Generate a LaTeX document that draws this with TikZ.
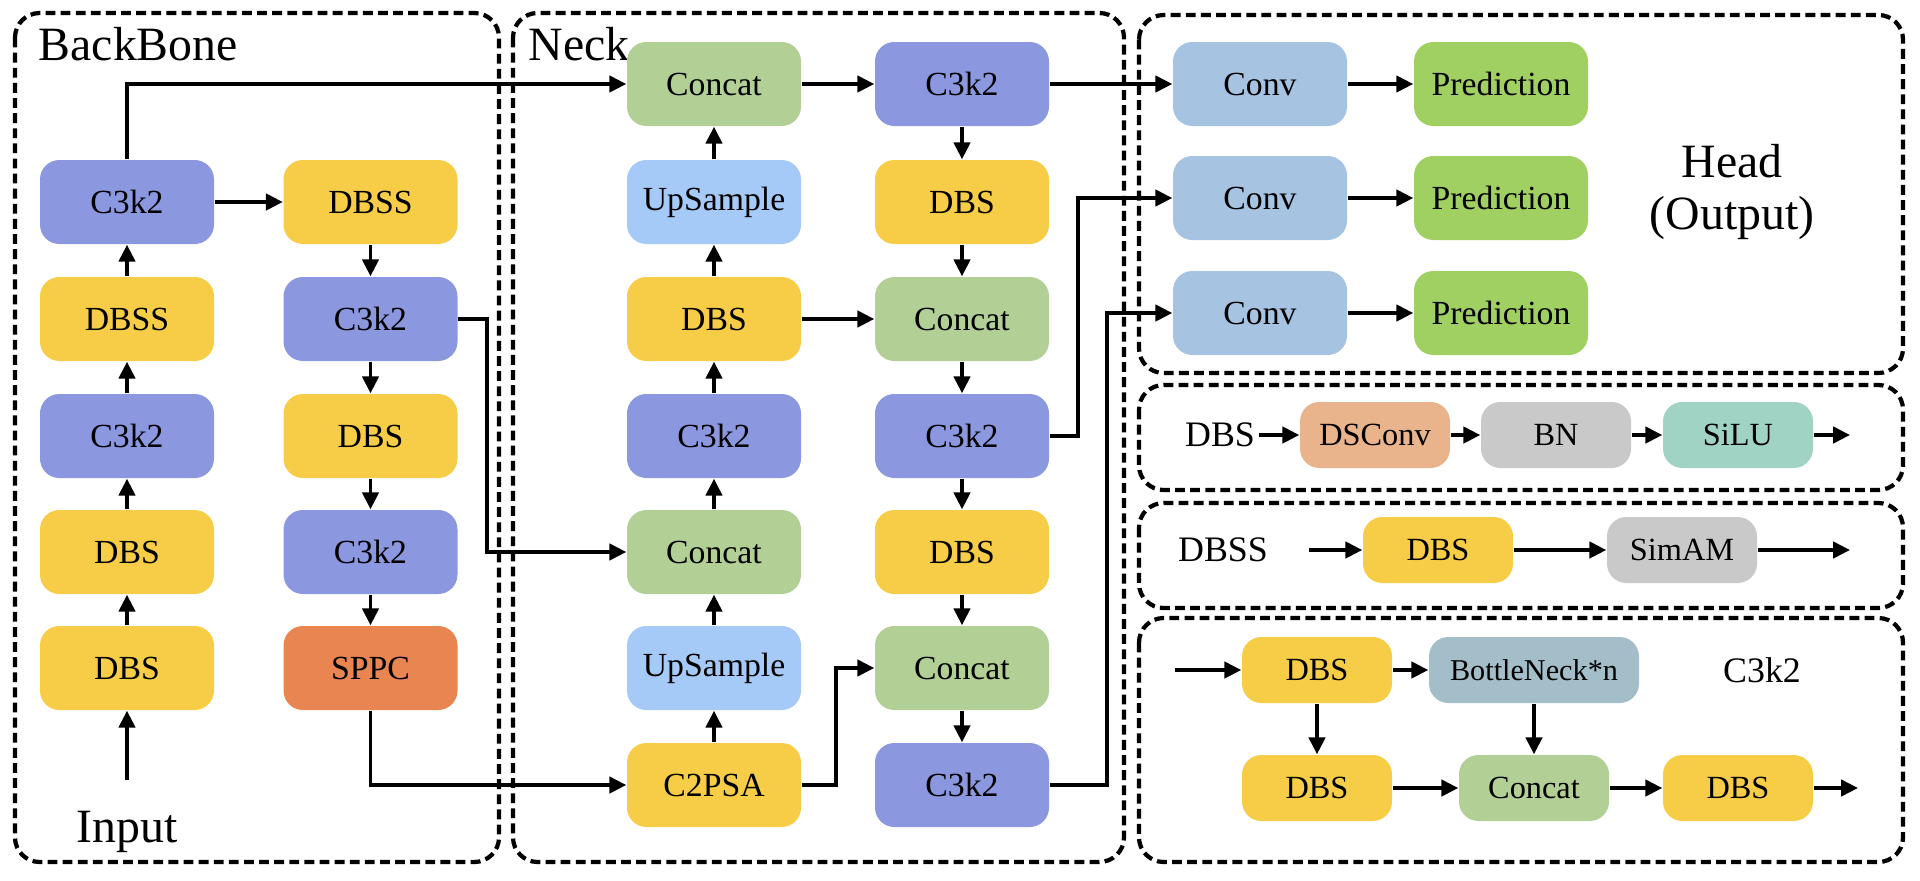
\documentclass[tikz,border=0pt]{standalone}
\usepackage{fontspec}
\setmainfont{Liberation Serif}
\usetikzlibrary{arrows.meta}
\definecolor{CCtk}{RGB}{139,152,224}
\definecolor{CDbs}{RGB}{247,205,72}
\definecolor{CCat}{RGB}{178,208,150}
\definecolor{CUps}{RGB}{166,202,248}
\definecolor{CSpp}{RGB}{233,133,80}
\definecolor{CConv}{RGB}{166,196,226}
\definecolor{CPred}{RGB}{160,207,98}
\definecolor{CDsc}{RGB}{233,180,140}
\definecolor{CGrey}{RGB}{201,201,201}
\definecolor{CSilu}{RGB}{160,211,196}
\definecolor{CBtn}{RGB}{164,190,201}
\tikzset{
  node base/.style={
    rounded corners=5.5pt,
    minimum width=1.74cm,
    minimum height=0.84cm,
    inner sep=0pt,
    font=\fontsize{9.6}{11}\selectfont
  },
  ctk/.style={node base,fill=CCtk},
  dbs/.style={node base,fill=CDbs},
  cat/.style={node base,fill=CCat},
  ups/.style={node base,fill=CUps},
  spp/.style={node base,fill=CSpp},
  cnv/.style={node base,fill=CConv},
  prd/.style={node base,fill=CPred},
  dsc/.style={node base,fill=CDsc},
  gry/.style={node base,fill=CGrey},
  slu/.style={node base,fill=CSilu},
  btn/.style={node base,fill=CBtn},
  lowbox/.style={minimum width=1.50cm,minimum height=0.66cm,font=\fontsize{9.2}{11}\selectfont},
  panel/.style={draw,line width=1.2pt,dash pattern=on 2.8pt off 1.5pt,rounded corners=7pt},
  title/.style={font=\fontsize{13.6}{14.8}\selectfont,inner sep=0pt},
  tag/.style={font=\fontsize{10.2}{12}\selectfont,inner sep=1pt},
  arrow/.style={-{Triangle[length=4.8pt,width=4.6pt]},line width=1.05pt}
}

\begin{document}
\begin{tikzpicture}[x=1cm,y=1cm]
\useasboundingbox (0,0) rectangle (19.2,-8.8);

% Dashed frames
\draw[panel] (0.15,-0.13) rectangle (4.99,-8.62);
\draw[panel] (5.13,-0.13) rectangle (11.24,-8.62);
\draw[panel] (11.39,-0.15) rectangle (19.03,-3.73);
\draw[panel] (11.39,-3.85) rectangle (19.03,-4.90);
\draw[panel] (11.39,-5.03) rectangle (19.03,-6.08);
\draw[panel] (11.39,-6.18) rectangle (19.03,-8.62);

% Backbone
\node[title,anchor=base west] (btitle) at (0.38,-0.60) {BackBone};
\node[ctk] (bl2) at (1.27,-2.02) {C3k2};
\node[dbs] (bl3) at (1.27,-3.19) {DBSS};
\node[ctk] (bl4) at (1.27,-4.36) {C3k2};
\node[dbs] (bl5) at (1.27,-5.52) {DBS};
\node[dbs] (bl6) at (1.27,-6.68) {DBS};
\node[dbs] (br2) at (3.705,-2.02) {DBSS};
\node[ctk] (br3) at (3.705,-3.19) {C3k2};
\node[dbs] (br4) at (3.705,-4.36) {DBS};
\node[ctk] (br5) at (3.705,-5.52) {C3k2};
\node[spp] (br6) at (3.705,-6.68) {SPPC};
\node[title,anchor=base] (inlbl) at (1.27,-8.42) {Input};
\coordinate (in) at (1.27,-7.80);

\draw[arrow] (in)--(bl6);
\draw[arrow] (bl6)--(bl5);
\draw[arrow] (bl5)--(bl4);
\draw[arrow] (bl4)--(bl3);
\draw[arrow] (bl3)--(bl2);
\draw[arrow] (bl2)--(br2);
\draw[arrow] (br2)--(br3);
\draw[arrow] (br3)--(br4);
\draw[arrow] (br4)--(br5);
\draw[arrow] (br5)--(br6);

% Neck
\node[title,anchor=base west] (ntitle) at (5.28,-0.60) {Neck};
\node[cat] (nl1) at (7.14,-0.84) {Concat};
\node[ups] (nl2) at (7.14,-2.02) {UpSample};
\node[dbs] (nl3) at (7.14,-3.19) {DBS};
\node[ctk] (nl4) at (7.14,-4.36) {C3k2};
\node[cat] (nl5) at (7.14,-5.52) {Concat};
\node[ups] (nl6) at (7.14,-6.68) {UpSample};
\node[dbs] (nl7) at (7.14,-7.85) {C2PSA};
\node[ctk] (nr1) at (9.62,-0.84) {C3k2};
\node[dbs] (nr2) at (9.62,-2.02) {DBS};
\node[cat] (nr3) at (9.62,-3.19) {Concat};
\node[ctk] (nr4) at (9.62,-4.36) {C3k2};
\node[dbs] (nr5) at (9.62,-5.52) {DBS};
\node[cat] (nr6) at (9.62,-6.68) {Concat};
\node[ctk] (nr7) at (9.62,-7.85) {C3k2};

\draw[arrow] (nl7)--(nl6);
\draw[arrow] (nl6)--(nl5);
\draw[arrow] (nl5)--(nl4);
\draw[arrow] (nl4)--(nl3);
\draw[arrow] (nl3)--(nl2);
\draw[arrow] (nl2)--(nl1);
\draw[arrow] (nl1)--(nr1);
\draw[arrow] (nl3)--(nr3);
\draw[arrow] (nr1)--(nr2);
\draw[arrow] (nr2)--(nr3);
\draw[arrow] (nr3)--(nr4);
\draw[arrow] (nr4)--(nr5);
\draw[arrow] (nr5)--(nr6);
\draw[arrow] (nr6)--(nr7);

% Head
\node[cnv] (hc1) at (12.60,-0.84) {Conv};
\node[cnv] (hc2) at (12.60,-1.98) {Conv};
\node[cnv] (hc3) at (12.60,-3.13) {Conv};
\node[prd] (hp1) at (15.01,-0.84) {Prediction};
\node[prd] (hp2) at (15.01,-1.98) {Prediction};
\node[prd] (hp3) at (15.01,-3.13) {Prediction};
\node[title,align=center] (htitle) at (17.32,-1.92) {Head\\(Output)};

\draw[arrow] (hc1)--(hp1);
\draw[arrow] (hc2)--(hp2);
\draw[arrow] (hc3)--(hp3);

% Links between stages
\draw[arrow] (bl2.north) |- (nl1.west);
\draw[arrow] (br3.east) -- ++(0.29,0) |- (nl5.west);
\draw[arrow] (br6.south) |- (nl7.west);
\draw[arrow] (nl7.east) -- ++(0.345,0) |- (nr6.west);
\draw[arrow] (nr1)--(hc1);
\draw[arrow] (nr4.east) -- ++(0.28,0) |- (hc2.west);
\draw[arrow] (nr7.east) -- ++(0.57,0) |- (hc3.west);

% DBS block
\node[tag] (dbslbl) at (12.20,-4.35) {DBS};
\node[dsc,lowbox] (dsconv) at (13.75,-4.35) {DSConv};
\node[gry,lowbox] (bn) at (15.56,-4.35) {BN};
\node[slu,lowbox] (silu) at (17.38,-4.35) {SiLU};
\coordinate (dout) at (18.50,-4.35);
\draw[arrow] (dbslbl)--(dsconv);
\draw[arrow] (dsconv)--(bn);
\draw[arrow] (bn)--(silu);
\draw[arrow] (silu)--(dout);

% DBSS block
\node[tag] (dbsslbl) at (12.23,-5.50) {DBSS};
\coordinate (sin) at (13.09,-5.50);
\node[dbs,lowbox] (sdbs) at (14.38,-5.50) {DBS};
\node[gry,lowbox] (simam) at (16.82,-5.50) {SimAM};
\coordinate (sout) at (18.50,-5.50);
\draw[arrow] (sin)--(sdbs);
\draw[arrow] (sdbs)--(simam);
\draw[arrow] (simam)--(sout);

% C3k2 block
\coordinate (cin) at (11.75,-6.70);
\node[dbs,lowbox] (cd1) at (13.17,-6.70) {DBS};
\node[btn,lowbox,minimum width=2.10cm,font=\fontsize{8.6}{10}\selectfont] (bneck) at (15.34,-6.70) {BottleNeck*n};
\node[tag] (ctklbl) at (17.62,-6.70) {C3k2};
\node[dbs,lowbox] (cd2) at (13.17,-7.88) {DBS};
\node[cat,lowbox] (ccat) at (15.34,-7.88) {Concat};
\node[dbs,lowbox] (cd3) at (17.38,-7.88) {DBS};
\coordinate (cout) at (18.58,-7.88);
\draw[arrow] (cin)--(cd1);
\draw[arrow] (cd1)--(bneck);
\draw[arrow] (cd1)--(cd2);
\draw[arrow] (bneck)--(ccat);
\draw[arrow] (cd2)--(ccat);
\draw[arrow] (ccat)--(cd3);
\draw[arrow] (cd3)--(cout);

\end{tikzpicture}
\end{document}
